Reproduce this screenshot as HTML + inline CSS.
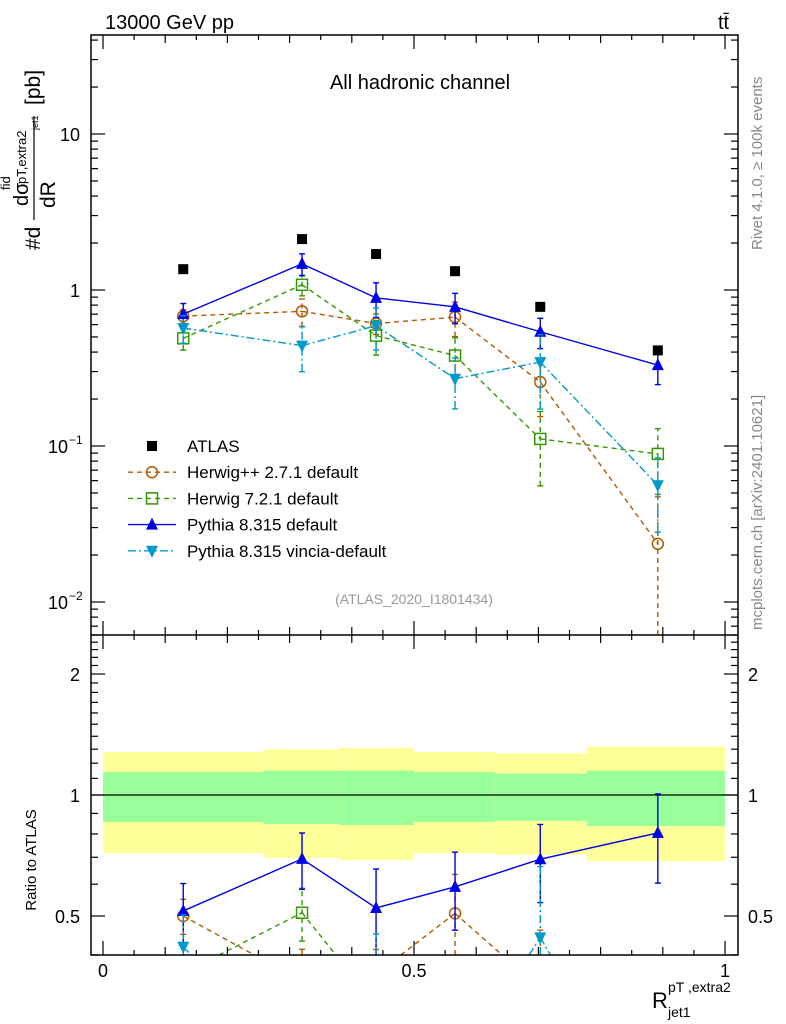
<!DOCTYPE html>
<html><head><meta charset="utf-8"><style>
html,body{margin:0;padding:0;background:#fff;width:786px;height:1024px;overflow:hidden}
svg{display:block;font-family:"Liberation Sans",sans-serif}
</style></head><body>
<svg id="c" width="786" height="1024" viewBox="0 0 786 1024" xmlns="http://www.w3.org/2000/svg">
<defs>
<clipPath id="cm"><rect x="91" y="35" width="647" height="600"/></clipPath>
<clipPath id="cr"><rect x="91" y="635" width="647" height="320"/></clipPath>
</defs>
<g id="bands" clip-path="url(#cr)"></g>
<g id="main" clip-path="url(#cm)"></g>
<g id="ratio" clip-path="url(#cr)"></g>
<g id="axes"></g>
<text x="105" y="29" font-size="20">13000 GeV pp</text>
<text x="718" y="29" font-size="20">tt̄</text>
<text x="420" y="89" font-size="20" text-anchor="middle">All hadronic channel</text>
<text x="414" y="604" font-size="14" fill="#999" text-anchor="middle">(ATLAS_2020_I1801434)</text>
<text transform="translate(762,250) rotate(-90)" font-size="15" fill="#888">Rivet 4.1.0, ≥ 100k events</text>
<text transform="translate(762,630) rotate(-90)" font-size="15" fill="#888">mcplots.cern.ch [arXiv:2401.10621]</text>
<g transform="translate(40,250) rotate(-90)" font-size="21">
<text x="0" y="0">#d</text><text x="44" y="-12" font-size="20">dσ</text><text x="60" y="-30" font-size="13">fid</text><text x="66" y="-14" font-size="13">pT,extra2</text>
<line x1="30" y1="-6" x2="134" y2="-6" stroke="#000" stroke-width="1.2"/>
<text x="42" y="15">dR</text><text x="120" y="-2" font-size="9">jet1</text><text x="145" y="0">[pb]</text>
</g>
<text transform="translate(36,860) rotate(-90)" font-size="15" text-anchor="middle">Ratio to ATLAS</text>
<g><text x="652" y="1008" font-size="22">R</text><text x="668" y="1017" font-size="14">jet1</text><text x="668" y="992" font-size="14">pT ,extra2</text></g>
<g id="legend"></g>
</svg>
<script>
const xCenters=[0.129,0.32,0.439,0.566,0.703,0.892];
const binEdges=[0,0.259,0.379,0.5,0.63,0.778,1.0];
const atlas=[1.36,2.12,1.70,1.32,0.78,0.41];
const herwigpp=[0.68,0.73,0.61,0.67,0.257,0.0236];
const herwigppErr=[0.10,0.20,0.15,0.25,0.40,1.0];
const herwig7=[0.49,1.08,0.51,0.38,0.111,0.089];
const herwig7Err=[0.16,0.15,0.25,0.30,0.50,0.45];
const pythia=[0.70,1.47,0.89,0.78,0.54,0.33];
const pythiaErr=[0.17,0.16,0.25,0.22,0.22,0.25];
const vincia=[0.57,0.44,0.59,0.27,0.345,0.056];
const vinciaErr=[0.20,0.32,0.30,0.36,0.50,0.50];
const yellowHi=[1.28,1.30,1.31,1.28,1.27,1.32];
const yellowLo=[0.717,0.697,0.689,0.717,0.71,0.685];
const greenHi=[1.14,1.15,1.15,1.14,1.13,1.15];
const greenLo=[0.857,0.847,0.842,0.857,0.862,0.837];
const ns="http://www.w3.org/2000/svg";
const X=v=>103+622*v;
const Y=v=>290-156*Math.log10(v);
const R=v=>795-121*Math.log2(v);
function mk(tag,attrs,parent){const e=document.createElementNS(ns,tag);for(const k in attrs)e.setAttribute(k,attrs[k]);parent.appendChild(e);return e;}
const main=document.getElementById('main'),ratio=document.getElementById('ratio'),bands=document.getElementById('bands'),axes=document.getElementById('axes'),leg=document.getElementById('legend');
for(let i=0;i<6;i++){
 let r=mk('rect',{x:X(binEdges[i]),y:R(yellowHi[i]),width:X(binEdges[i+1])-X(binEdges[i]),height:R(yellowLo[i])-R(yellowHi[i]),fill:'#ffff99'},bands);
 
 
 r=mk('rect',{x:X(binEdges[i]),y:R(greenHi[i]),width:X(binEdges[i+1])-X(binEdges[i]),height:R(greenLo[i])-R(greenHi[i]),fill:'#99ff99'},bands);
 
 
}
mk('line',{x1:91,x2:738,y1:R(1),y2:R(1),stroke:'#000','stroke-width':1.2},bands);
function marker(g,type,x,y,col){
 let e;
 if(type==='sq')e=mk('rect',{x:x-5,y:y-5,width:10,height:10,fill:'#000'},g);
 else if(type==='circ')e=mk('circle',{cx:x,cy:y,r:5.5,fill:'none',stroke:col,'stroke-width':1.5},g);
 else if(type==='osq')e=mk('rect',{x:x-5.5,y:y-5.5,width:11,height:11,fill:'none',stroke:col,'stroke-width':1.5},g);
 else if(type==='up')e=mk('polygon',{points:`${x-6},${y+5} ${x+6},${y+5} ${x},${y-7}`,fill:col},g);
 else e=mk('polygon',{points:`${x-6},${y-5} ${x+6},${y-5} ${x},${y+7}`,fill:col},g);
 
 
}
const series=[
 {name:'herwigpp',vals:herwigpp,err:herwigppErr,col:'#b35900',dash:'5,4',m:'circ',label:'Herwig++ 2.7.1 default'},
 {name:'herwig7',vals:herwig7,err:herwig7Err,col:'#339900',dash:'5,4',m:'osq',label:'Herwig 7.2.1 default'},
 {name:'pythia',vals:pythia,err:pythiaErr,col:'#0000e6',dash:'',m:'up',label:'Pythia 8.315 default'},
 {name:'vincia',vals:vincia,err:vinciaErr,col:'#0099cc',dash:'8,3,2,3',m:'down',label:'Pythia 8.315 vincia-default'}
];
function clipSeg(x1,y1,x2,y2,ymin,ymax){
 let t0=0,t1=1;const dy=y2-y1;
 if(dy===0){if(y1<ymin||y1>ymax)return null;}
 else{let ta=(ymin-y1)/dy,tb=(ymax-y1)/dy;if(ta>tb)[ta,tb]=[tb,ta];t0=Math.max(t0,ta);t1=Math.min(t1,tb);if(t0>t1)return null;}
 return [x1+(x2-x1)*t0,y1+dy*t0,x1+(x2-x1)*t1,y1+dy*t1];
}
function drawSeries(g,s,f,yf,ymin,ymax){
 const gg=mk('g',{},g);
 
 
 let d='';
 for(let i=0;i<s.vals.length-1;i++){
  const c=clipSeg(X(xCenters[i]),yf(f(s.vals[i],i)),X(xCenters[i+1]),yf(f(s.vals[i+1],i+1)),ymin,ymax);
  if(c)d+=`M${c[0]},${c[1]}L${c[2]},${c[3]}`;
 }
 if(d)mk('path',{d:d,fill:'none',stroke:s.col,'stroke-width':1.4,'stroke-dasharray':s.dash},gg);
 s.vals.forEach((v,i)=>{
  const x=X(xCenters[i]);const c=f(v,i);const e=s.err[i];
  const lo=Math.max(c*(1-e),c*0.001),hi=c*(1+e);
  const cy=yf(c),ylo=yf(lo),yhi=yf(hi);
  const a=Math.max(ymin,Math.min(ymax,yhi)),b=Math.max(ymin,Math.min(ymax,ylo));
  if(b>a)mk('line',{x1:x,x2:x,y1:b,y2:a,stroke:s.col,'stroke-width':1.4,'stroke-dasharray':s.dash},gg);
  if(yhi>=ymin&&yhi<=ymax)mk('line',{x1:x-3,x2:x+3,y1:yhi,y2:yhi,stroke:s.col,'stroke-width':1.4},gg);
  if(e<1&&ylo>=ymin&&ylo<=ymax)mk('line',{x1:x-3,x2:x+3,y1:ylo,y2:ylo,stroke:s.col,'stroke-width':1.4},gg);
  if(cy>=ymin-8&&cy<=ymax+8)marker(gg,s.m,x,cy,s.col);
 });
}
series.forEach(s=>drawSeries(main,s,v=>v,Y,35,635));
atlas.forEach((v,i)=>marker(main,'sq',X(xCenters[i]),Y(v),'#000'));
series.forEach(s=>drawSeries(ratio,s,(v,i)=>v/atlas[i],R,635,955));
mk('rect',{x:91,y:35,width:647,height:920,fill:'none',stroke:'#000','stroke-width':1.5},axes);
mk('line',{x1:91,x2:738,y1:635,y2:635,stroke:'#000','stroke-width':1.5},axes);
function tick(x1,y1,x2,y2){mk('line',{x1,y1,x2,y2,stroke:'#000','stroke-width':1.2},axes);}
for(let k=0;k<=20;k++){const v=k*0.05;const x=X(v);if(x>738)continue;const len=(k%10===0)?14:(k%2===0?8:5);
 tick(x,635,x,635-len);tick(x,35,x,35+len);tick(x,955,x,955-len);tick(x,635,x,635+len);}
[['0',0],['0.5',0.5],['1',1]].forEach(([t,v])=>{const e=mk('text',{x:X(v),y:977,'font-size':18,'text-anchor':'middle'},axes);e.textContent=t;});
for(let d=-3;d<=2;d++){for(let m=1;m<10;m++){const v=m*Math.pow(10,d);const y=Y(v);if(y<35||y>635)continue;const len=m===1?14:7;tick(91,y,91+len,y);tick(738,y,738-len,y);}}
[['10',10],['1',1]].forEach(([t,v])=>{const e=mk('text',{x:80,y:Y(v)+7,'font-size':18,'text-anchor':'end'},axes);e.textContent=t;});
[[0.1,'−1'],[0.01,'−2']].forEach(([v,p])=>{const e=mk('text',{x:68,y:Y(v)+7,'font-size':18,'text-anchor':'end'},axes);e.textContent='10';const s=mk('text',{x:69,y:Y(v)-2,'font-size':12},axes);s.textContent=p;});
[0.4,0.5,0.6,0.7,0.8,0.9,1,1.1,1.2,1.3,1.4,1.5,1.6,1.7,1.8,1.9,2,2.1,2.2,2.3,2.4,2.5].forEach(v=>{const y=R(v);if(y<635||y>955)return;const len=(v===0.5||v===1||v===2)?14:7;tick(91,y,91+len,y);tick(738,y,738-len,y);});
[['2',2],['1',1],['0.5',0.5]].forEach(([t,v])=>{let e=mk('text',{x:80,y:R(v)+7,'font-size':18,'text-anchor':'end'},axes);e.textContent=t;
 e=mk('text',{x:748,y:R(v)+7,'font-size':18},axes);e.textContent=t;});
const legRows=[{label:'ATLAS',m:'sq',col:'#000',dash:null}].concat(series);
legRows.forEach((s,i)=>{const y=446+26.2*i;const g=mk('g',{},leg);
 
 
 if(s.dash!==null)mk('line',{x1:128,x2:176,y1:y,y2:y,stroke:s.col,'stroke-width':1.4,'stroke-dasharray':s.dash},g);
 marker(g,s.m,152,y,s.col);
 const t=mk('text',{x:187,y:y+6,'font-size':17},g);t.textContent=s.label;});
</script>
</body></html>
